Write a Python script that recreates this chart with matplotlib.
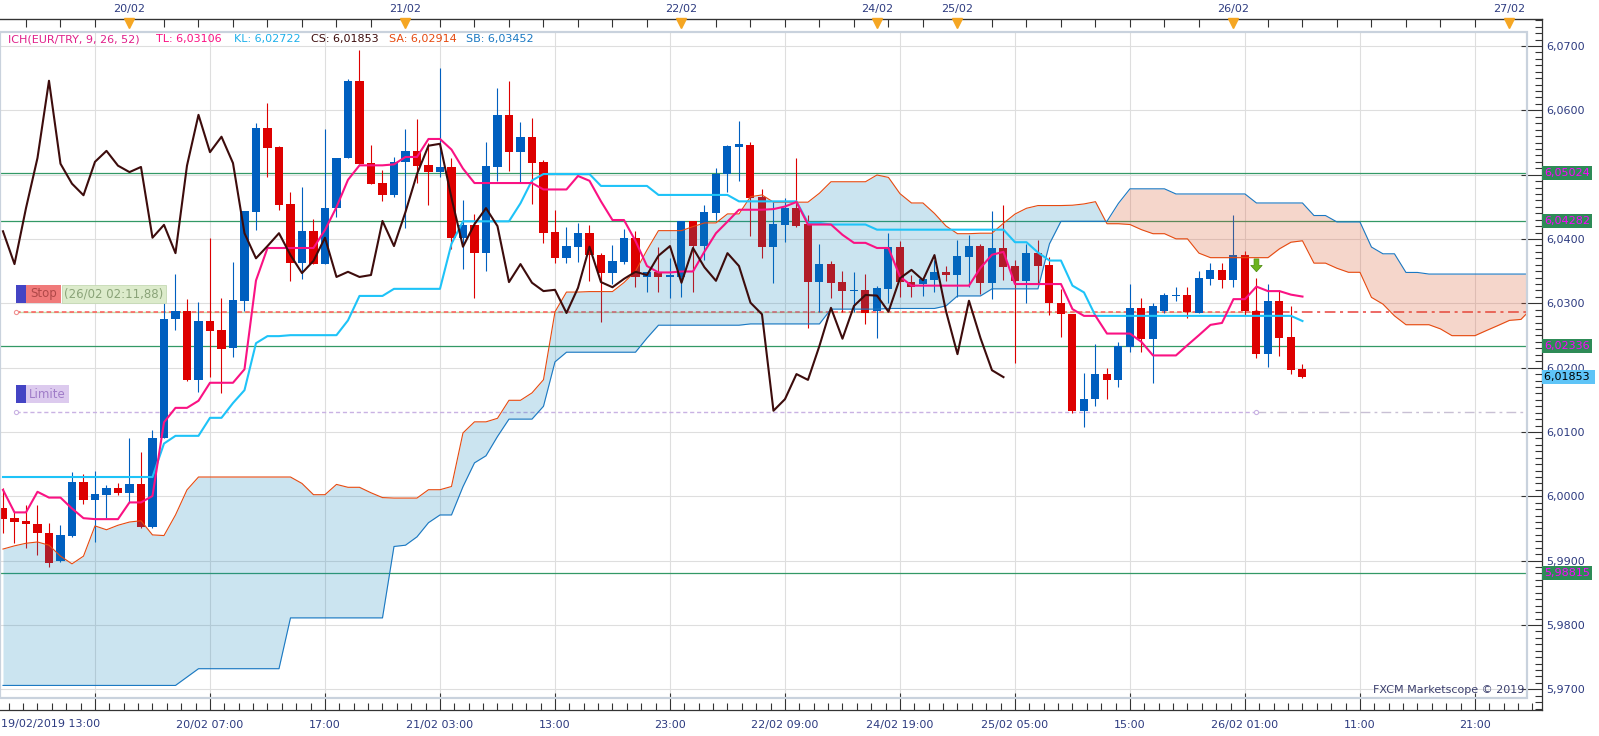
import numpy as np
import pandas as pd
import matplotlib
matplotlib.use("Agg")
import matplotlib.pyplot as plt
import matplotlib.transforms as mtransforms
from matplotlib.patches import Rectangle, FancyArrow
from matplotlib.ticker import FixedLocator, MultipleLocator, FuncFormatter

# hourly EUR/TRY candles, bar 0 = 19/02/2019 13:00
opens = [5.9982, 5.9966, 5.9962, 5.9957, 5.9943, 5.9899, 5.9938, 6.0022, 5.9994, 6.0002,
         6.0013, 6.0005, 6.0019, 5.9952, 6.0091, 6.0276, 6.0288, 6.0181, 6.0273, 6.0259,
         6.0231, 6.0304, 6.0442, 6.0573, 6.0543, 6.0454, 6.0363, 6.0412, 6.0361, 6.0448,
         6.0526, 6.0646, 6.0518, 6.0487, 6.0468, 6.0520, 6.0537, 6.0515, 6.0504, 6.0512,
         6.0402, 6.0422, 6.0378, 6.0512, 6.0593, 6.0535, 6.0559, 6.0520, 6.0411, 6.0370,
         6.0388, 6.0409, 6.0375, 6.0347, 6.0364, 6.0402, 6.0341, 6.0349, 6.0341, 6.0341,
         6.0428, 6.0389, 6.0440, 6.0501, 6.0543, 6.0546, 6.0465, 6.0388, 6.0422, 6.0448,
         6.0423, 6.0333, 6.0361, 6.0333, 6.0319, 6.0321, 6.0288, 6.0322, 6.0388, 6.0333,
         6.0330, 6.0336, 6.0349, 6.0344, 6.0372, 6.0389, 6.0332, 6.0386, 6.0358, 6.0335,
         6.0378, 6.0360, 6.0301, 6.0283, 6.0133, 6.0151, 6.0190, 6.0181, 6.0232, 6.0293,
         6.0245, 6.0288, 6.0311, 6.0313, 6.0285, 6.0338, 6.0352, 6.0336, 6.0375, 6.0288,
         6.0221, 6.0304, 6.0248, 6.0198]
highs = [6.0013, 5.9976, 5.9987, 5.9987, 5.9959, 5.9955, 6.0038, 6.0035, 6.0039, 6.0018,
         6.0021, 6.0091, 6.0069, 6.0103, 6.0301, 6.0346, 6.0307, 6.0302, 6.0402, 6.0308,
         6.0364, 6.0444, 6.0580, 6.0611, 6.0545, 6.0473, 6.0481, 6.0431, 6.0571, 6.0526,
         6.0649, 6.0694, 6.0546, 6.0507, 6.0527, 6.0571, 6.0587, 6.0549, 6.0666, 6.0526,
         6.0461, 6.0439, 6.0551, 6.0635, 6.0646, 6.0582, 6.0588, 6.0523, 6.0445, 6.0419,
         6.0425, 6.0422, 6.0378, 6.0391, 6.0416, 6.0412, 6.0349, 6.0388, 6.0370, 6.0428,
         6.0428, 6.0453, 6.0510, 6.0546, 6.0583, 6.0551, 6.0478, 6.0457, 6.0464, 6.0526,
         6.0437, 6.0392, 6.0366, 6.0350, 6.0349, 6.0346, 6.0327, 6.0409, 6.0397, 6.0344,
         6.0338, 6.0367, 6.0358, 6.0398, 6.0406, 6.0392, 6.0444, 6.0453, 6.0367, 6.0392,
         6.0398, 6.0372, 6.0322, 6.0283, 6.0192, 6.0237, 6.0199, 6.0240, 6.0330, 6.0308,
         6.0301, 6.0316, 6.0325, 6.0325, 6.0350, 6.0363, 6.0363, 6.0437, 6.0381, 6.0339,
         6.0330, 6.0321, 6.0296, 6.0206]
lows = [5.9943, 5.9927, 5.9920, 5.9909, 5.9890, 5.9898, 5.9937, 5.9988, 5.9929, 5.9966,
        6.0002, 5.9991, 5.9951, 5.9951, 6.0091, 6.0259, 6.0179, 6.0162, 6.0186, 6.0161,
        6.0217, 6.0288, 6.0414, 6.0496, 6.0445, 6.0335, 6.0338, 6.0361, 6.0361, 6.0434,
        6.0526, 6.0517, 6.0486, 6.0459, 6.0465, 6.0417, 6.0487, 6.0453, 6.0496, 6.0384,
        6.0353, 6.0308, 6.0350, 6.0490, 6.0506, 6.0489, 6.0454, 6.0394, 6.0363, 6.0363,
        6.0364, 6.0335, 6.0271, 6.0330, 6.0361, 6.0325, 6.0318, 6.0318, 6.0308, 6.0310,
        6.0318, 6.0367, 6.0430, 6.0473, 6.0490, 6.0405, 6.0370, 6.0332, 6.0395, 6.0419,
        6.0262, 6.0287, 6.0308, 6.0287, 6.0287, 6.0268, 6.0246, 6.0301, 6.0310, 6.0310,
        6.0311, 6.0318, 6.0335, 6.0310, 6.0325, 6.0314, 6.0307, 6.0336, 6.0207, 6.0301,
        6.0330, 6.0282, 6.0248, 6.0129, 6.0108, 6.0140, 6.0151, 6.0170, 6.0224, 6.0224,
        6.0176, 6.0285, 6.0304, 6.0277, 6.0285, 6.0328, 6.0324, 6.0325, 6.0282, 6.0215,
        6.0201, 6.0218, 6.0190, 6.0184]
closes = [5.9965, 5.9960, 5.9957, 5.9943, 5.9896, 5.9940, 6.0022, 5.9994, 6.0004, 6.0013,
          6.0005, 6.0019, 5.9952, 6.0091, 6.0276, 6.0288, 6.0181, 6.0273, 6.0257, 6.0229,
          6.0305, 6.0444, 6.0573, 6.0541, 6.0453, 6.0363, 6.0412, 6.0361, 6.0448, 6.0526,
          6.0646, 6.0517, 6.0486, 6.0468, 6.0520, 6.0537, 6.0514, 6.0504, 6.0512, 6.0402,
          6.0422, 6.0378, 6.0514, 6.0593, 6.0535, 6.0559, 6.0518, 6.0409, 6.0370, 6.0389,
          6.0409, 6.0375, 6.0347, 6.0366, 6.0402, 6.0341, 6.0349, 6.0341, 6.0344, 6.0428,
          6.0389, 6.0442, 6.0501, 6.0545, 6.0548, 6.0464, 6.0388, 6.0423, 6.0448, 6.0420,
          6.0333, 6.0361, 6.0332, 6.0319, 6.0321, 6.0285, 6.0324, 6.0388, 6.0333, 6.0325,
          6.0338, 6.0349, 6.0344, 6.0374, 6.0389, 6.0332, 6.0386, 6.0356, 6.0335, 6.0378,
          6.0358, 6.0301, 6.0283, 6.0133, 6.0151, 6.0190, 6.0181, 6.0234, 6.0293, 6.0245,
          6.0296, 6.0313, 6.0312, 6.0287, 6.0339, 6.0352, 6.0336, 6.0375, 6.0288, 6.0221,
          6.0304, 6.0246, 6.0196, 6.01853]

# indicator values at the left edge (history before bar 0)
tenkan_early = [6.0010, 5.9975, 5.9975, 6.0007, 5.9998, 5.9998, 5.9981, 5.9966]
kijun_early = [6.0030, 6.0030, 6.0030, 6.0030, 6.0030, 6.0030, 6.0030, 6.0030, 6.0030, 6.0030,
               6.0030, 6.0030, 6.0030, 6.0030, 6.0082, 6.0094, 6.0094, 6.0094, 6.0122, 6.0122,
               6.0145, 6.0165, 6.0238, 6.0249, 6.0249]
sa_early = [5.9918, 5.9923, 5.9927, 5.9929, 5.9924, 5.9907, 5.9895, 5.9907, 5.9954, 5.9948,
            5.9955, 5.9960, 5.9962, 5.9940, 5.9939, 5.9971, 6.0010, 6.0030, 6.0030, 6.0030,
            6.0030, 6.0030, 6.0030, 6.0030, 6.0030, 6.0030]
sb_early = [5.9706, 5.9706, 5.9706, 5.9706, 5.9706, 5.9706, 5.9706, 5.9706, 5.9706, 5.9706,
            5.9706, 5.9706, 5.9706, 5.9706, 5.9706, 5.9706, 5.9719, 5.9732, 5.9732, 5.9732,
            5.9732, 5.9732, 5.9732, 5.9732, 5.9732, 5.9811, 5.9811, 5.9811, 5.9811, 5.9811,
            5.9811, 5.9811, 5.9811, 5.9811, 5.9922, 5.9924, 5.9937, 5.9959, 5.9971, 5.9971,
            6.0015, 6.0052, 6.0063, 6.0093, 6.0120, 6.0120, 6.0120, 6.0140, 6.0209, 6.0224,
            6.0224, 6.0224, 6.0224, 6.0224, 6.0224, 6.0224, 6.0246, 6.0266, 6.0266, 6.0266,
            6.0266, 6.0266, 6.0266, 6.0266, 6.0266, 6.0268, 6.0268, 6.0268, 6.0268, 6.0268,
            6.0268, 6.0268, 6.0291, 6.0291, 6.0291, 6.0291, 6.0291]

levels = [6.05024, 6.04282, 6.02336, 5.98815]
stop_price = 6.02865
limit_price = 6.01315
order_bar = 109
last_price = 6.01853

bottom_ticks = [8, 18, 28, 38, 48, 58, 68, 78, 88, 98, 108, 118, 128]
bottom_labels = ["", "20/02 07:00", "17:00", "21/02 03:00", "13:00", "23:00", "22/02 09:00",
                 "24/02 19:00", "25/02 05:00", "15:00", "26/02 01:00", "11:00", "21:00"]
day_bars = [11, 35, 59, 76, 83, 107, 131]
day_labels = ["20/02", "21/02", "22/02", "24/02", "25/02", "26/02", "27/02"]

# ichimoku (9, 26, 52)
h = pd.Series(highs)
l = pd.Series(lows)
n = len(closes)
shift = 26
tenkan = ((h.rolling(9).max() + l.rolling(9).min()) / 2).to_numpy()
tenkan[:8] = tenkan_early
kijun = ((h.rolling(26).max() + l.rolling(26).min()) / 2).to_numpy()
kijun[:25] = kijun_early
span52 = ((h.rolling(52).max() + l.rolling(52).min()) / 2).to_numpy()
sa = np.full(n + shift, np.nan)
sa[shift:] = (tenkan + kijun) / 2
sa[:shift] = sa_early
sb = np.full(n + shift, np.nan)
sb[shift:] = span52
sb[:77] = sb_early
chikou = np.array(closes[shift:])

W, H = 1599, 736
fig = plt.figure(figsize=(W / 100, H / 100), dpi=100)
ax = fig.add_axes([0, 1 - 710 / H, 1542 / W, (710 - 19) / H])
ax.set_xlim(-0.26, 133.83)
ax.set_ylim(5.96678, 6.07420)

fx1 = 1527 / 1542
fy0 = (710 - 698) / 691
fy1 = (710 - 32) / 691
clip_rect = Rectangle((0, fy0), fx1, fy1 - fy0, transform=ax.transAxes)

# grid
ax.vlines(bottom_ticks, 5.96, 6.08, colors="#dedede", lw=0.8, zorder=0.5)
ax.hlines(np.arange(5.97, 6.0701, 0.01), -1, 140, colors="#dedede", lw=0.8, zorder=0.5)

# levels
ax.hlines(levels, -1, 140, colors="#339966", lw=0.9, zorder=1.5)
ax.hlines(stop_price, 1.13, order_bar, colors="#c2dfae", lw=1.0, zorder=1.6)
ax.hlines(stop_price, 1.13, order_bar, colors="#ff5757", lw=1.1, linestyles=[(0, (3, 2))], zorder=1.7)
ax.hlines(stop_price, order_bar, 140, colors="#e8413c", lw=1.1, linestyles=[(0, (7, 3, 2, 3))], zorder=1.7)
ax.hlines(limit_price, 1.13, order_bar, colors="#c9b2e3", lw=1.0, linestyles=[(0, (3, 2))], zorder=1.6)
ax.hlines(limit_price, order_bar, 140, colors="#c8c0d4", lw=1.0, linestyles=[(0, (7, 3, 2, 3))], zorder=1.6)
ax.plot([1.13, order_bar], [stop_price] * 2, "o", ms=3, mfc="white", mec="#f09090", mew=0.8, zorder=1.8)
ax.plot([1.13, order_bar], [limit_price] * 2, "o", ms=3, mfc="white", mec="#c9b2e3", mew=0.8, zorder=1.8)

# candles
o = np.array(opens)
c = np.array(closes)
x = np.arange(n)
up = c >= o
cols = np.where(up, "#005fbf", "#dd0000")
ax.vlines(x, lows, highs, colors=cols, lw=0.8, zorder=2)
body_lo = np.minimum(o, c)
body_h = np.maximum(np.abs(c - o), 0.00016)
ax.bar(x, body_h, bottom=body_lo, width=0.7, color=cols, lw=0, zorder=2.1)

# cloud
xs = np.arange(n + shift)
ax.fill_between(xs, sa, sb, where=sa >= sb, interpolate=True,
                color=(0.07, 0.51, 0.73), alpha=0.216, lw=0, zorder=2.5)
ax.fill_between(xs, sa, sb, where=sa < sb, interpolate=True,
                color=(0.86, 0.36, 0.20), alpha=0.25, lw=0, zorder=2.5)
ax.plot(xs, sa, color="#e64a10", lw=0.8, zorder=3)
ax.plot(xs, sb, color="#1a78c2", lw=0.8, zorder=3)
ax.plot(x, kijun, color="#1ec3f8", lw=1.5, zorder=3.2)
ax.plot(x, tenkan, color="#fa1283", lw=1.5, zorder=3.3)
ax.plot(np.arange(len(chikou)), chikou, color="#3d0c0c", lw=1.5, zorder=3.4)

# signal arrow
ax.add_patch(FancyArrow(order_bar, 6.0369, 0, -0.0010, width=0.42, head_width=1.0,
                        head_length=0.0010, length_includes_head=False,
                        fc="#6cb41e", ec="#4e8c10", lw=0.5, zorder=5))

for art in ax.collections + ax.lines + ax.patches:
    art.set_clip_path(clip_rect)

ax.add_patch(Rectangle((0, fy0), fx1, fy1 - fy0, transform=ax.transAxes, fill=False,
                       ec="#c9d2dd", lw=1.6, zorder=4, clip_on=False))

# axes styling
ax.spines["left"].set_visible(False)
for s in ["right", "bottom", "top"]:
    ax.spines[s].set_color("#333333")
    ax.spines[s].set_linewidth(0.9)


def price_fmt(v, p):
    # the 6,0500 label sits fully under the 6,05024 level box on the chart
    if abs(v - 6.05) < 1e-6:
        return ""
    return f"{v:.4f}".replace(".", ",")


label_col = "#2d3b80"
ax.yaxis.tick_right()
ax.yaxis.set_major_locator(MultipleLocator(0.01))
ax.yaxis.set_minor_locator(MultipleLocator(0.001))
ax.yaxis.set_major_formatter(FuncFormatter(price_fmt))
ax.tick_params(axis="y", which="major", direction="in", length=15, width=0.8,
               color="#333333", labelcolor=label_col, labelsize=8, pad=3)
ax.tick_params(axis="y", which="minor", direction="in", length=5, width=0.8, color="#333333")

ax.set_xticks(bottom_ticks)
ax.set_xticklabels(bottom_labels)
ax.xaxis.set_minor_locator(FixedLocator(np.arange(8 - 1.25 * 6, 134, 1.25)))
ax.tick_params(axis="x", which="major", direction="in", length=12, width=0.8,
               color="#333333", labelcolor=label_col, labelsize=8, pad=7)
ax.tick_params(axis="x", which="minor", direction="in", length=5, width=0.8, color="#333333")

top_ticks = list(range(2, 75, 3)) + list(range(77, 134, 3))
top = ax.secondary_xaxis("top")
top.set_xticks(top_ticks)
top.tick_params(direction="in", length=6, width=0.8, color="#333333", labeltop=False)
top.spines["top"].set_color("#333333")

blend = mtransforms.blended_transform_factory(ax.transData, ax.transAxes)
ax.plot(day_bars, [0.9935] * len(day_bars), "v", ms=6.5, color="#f5a623",
        transform=blend, clip_on=False, zorder=6)
for b, t in zip(day_bars, day_labels):
    ax.text(b, 1.0150, t, transform=blend, ha="center", va="center",
            fontsize=8, color=label_col, clip_on=False)

fig.text(1 / W, 1 - 724 / H, "19/02/2019 13:00", ha="left", va="center",
         fontsize=8, color=label_col)

# right-axis price boxes
yblend = mtransforms.blended_transform_factory(ax.transAxes, ax.transData)
for lv in levels:
    ax.text(1.0015, lv, f"{lv:.5f}".replace(".", ","), transform=yblend, ha="left",
            va="center", fontsize=8, color="#ff00ff", clip_on=False, zorder=10,
            bbox=dict(boxstyle="square,pad=0.18", fc="#2e8b57", ec="none"))
ax.text(1.0015, last_price, f"{last_price:.5f}".replace(".", ",") + " ", transform=yblend,
        ha="left", va="center", fontsize=8, color="black", clip_on=False, zorder=10,
        bbox=dict(boxstyle="square,pad=0.18", fc="#5ec4f7", ec="none"))

# legend line
legend_parts = [("ICH(EUR/TRY, 9, 26, 52)", 8, "#e0208a"),
                ("TL: 6,03106", 156, "#fa1283"),
                ("KL: 6,02722", 234, "#1eb0ea"),
                ("CS: 6,01853", 311, "#3d0c0c"),
                ("SA: 6,02914", 389, "#e64a10"),
                ("SB: 6,03452", 466, "#1a78c2")]
for txt, px, col in legend_parts:
    fig.text(px / W, 1 - 39 / H, txt, ha="left", va="center", fontsize=8, color=col)


# order labels
def tag(y0, x_text, w_text, face_text, label, label_col_, extra=None):
    fig.add_artist(Rectangle((16 / W, 1 - (y0 + 18) / H), 10 / W, 18 / H,
                             transform=fig.transFigure, fc="#4444c4", ec="none"))
    fig.add_artist(Rectangle((x_text / W, 1 - (y0 + 18) / H), w_text / W, 18 / H,
                             transform=fig.transFigure, fc=face_text, ec="none"))
    fig.text((x_text + w_text / 2) / W, 1 - (y0 + 9) / H, label, ha="center", va="center",
             fontsize=8.5, color=label_col_)
    if extra:
        ex_txt, ex_x, ex_w, ex_face, ex_col = extra
        fig.add_artist(Rectangle((ex_x / W, 1 - (y0 + 18) / H), ex_w / W, 18 / H,
                                 transform=fig.transFigure, fc=ex_face, ec="#c5d9b4", lw=0.6))
        fig.text((ex_x + ex_w / 2) / W, 1 - (y0 + 9) / H, ex_txt, ha="center", va="center",
                 fontsize=8.5, color=ex_col)


tag(285, 26, 35, "#f07a7a", "Stop", "#b04848",
    extra=("(26/02 02:11,88)", 62, 104, "#dcebcb", "#8aa378"))
tag(385, 26, 43, "#dccaee", "Limite", "#a07cc8")

fig.text(1524 / W, 1 - 690 / H, "FXCM Marketscope © 2019", ha="right", va="center",
         fontsize=8, color="#3b3f6e")

fig.savefig("out.png", dpi=100)
